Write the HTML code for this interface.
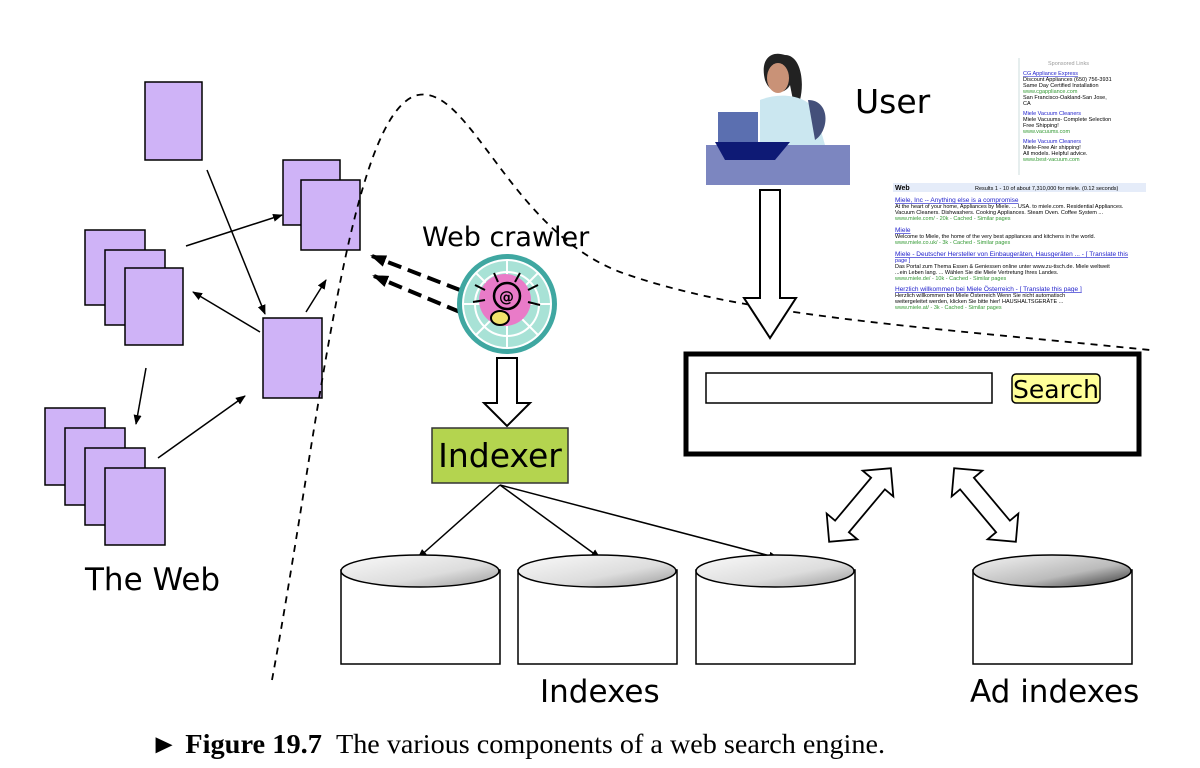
<!DOCTYPE html>
<html><head><meta charset="utf-8"><style>
body{margin:0;background:#fff;}
svg{display:block}
text{font-family:"DejaVu Sans","Liberation Sans",sans-serif;}
</style></head><body>
<svg width="1200" height="768" viewBox="0 0 1200 768" xmlns="http://www.w3.org/2000/svg">
<defs>
<marker id="ah" markerWidth="10" markerHeight="8" refX="9" refY="4" orient="auto" markerUnits="userSpaceOnUse"><path d="M0,0 L10,4 L0,8 z" fill="#000"/></marker>
<marker id="ah2" markerWidth="16" markerHeight="12" refX="14" refY="6" orient="auto" markerUnits="userSpaceOnUse"><path d="M0,0 L16,6 L0,12 z" fill="#000"/></marker>
<linearGradient id="cg" x1="0" y1="0" x2="1" y2="1"><stop offset="0" stop-color="#fafafa"/><stop offset="0.6" stop-color="#ddd"/><stop offset="1" stop-color="#999"/></linearGradient>
<linearGradient id="cg2" x1="0" y1="0" x2="1" y2="1"><stop offset="0" stop-color="#f4f4f4"/><stop offset="0.6" stop-color="#bbb"/><stop offset="1" stop-color="#333"/></linearGradient>
</defs>

<g fill="#cfb3f7" stroke="#000" stroke-width="1.5">
<rect x="145" y="82" width="57" height="78"/>
<rect x="283" y="160" width="57" height="65"/><rect x="301" y="180" width="59" height="70"/>
<rect x="85" y="230" width="60" height="75"/><rect x="105" y="250" width="60" height="75"/><rect x="125" y="268" width="58" height="77"/>
<rect x="263" y="318" width="59" height="80"/>
<rect x="45" y="408" width="60" height="77"/><rect x="65" y="428" width="60" height="77"/><rect x="85" y="448" width="60" height="77"/><rect x="105" y="468" width="60" height="77"/>
</g>
<g stroke="#000" stroke-width="1.5" marker-end="url(#ah)">
<line x1="207" y1="170" x2="265" y2="314"/>
<line x1="186" y1="246" x2="282" y2="215"/>
<line x1="260" y1="332" x2="193" y2="292"/>
<line x1="306" y1="312" x2="326" y2="280"/>
<line x1="146" y1="368" x2="136" y2="424"/>
<line x1="158" y1="458" x2="245" y2="396"/>
</g>
<text x="85" y="590" font-size="31">The Web</text>

<path d="M272,680 C320,420 350,110 418,95 C470,85 510,230 620,272 C740,315 900,325 1150,350" fill="none" stroke="#000" stroke-width="1.8" stroke-dasharray="7,6"/>

<text x="422" y="246" font-size="27">Web crawler</text>
<g stroke="#000" stroke-width="4" stroke-dasharray="14,7" marker-end="url(#ah2)">
<line x1="460" y1="290" x2="372" y2="256"/>
<line x1="460" y1="312" x2="374" y2="276"/>
</g>
<circle cx="507" cy="304" r="50" fill="#3fa7a1"/>
<circle cx="507" cy="304" r="44" fill="#a8e2d6"/>
<g stroke="#fff" stroke-width="2" fill="none">
<circle cx="507" cy="304" r="44"/><circle cx="507" cy="304" r="32"/>
<line x1="463" y1="304" x2="551" y2="304"/><line x1="507" y1="260" x2="507" y2="348"/>
<line x1="476" y1="273" x2="538" y2="335"/><line x1="538" y1="273" x2="476" y2="335"/>
</g>
<circle cx="505" cy="300" r="26" fill="#e97bc8"/>
<circle cx="507" cy="296" r="13" fill="none" stroke="#000" stroke-width="2.5"/>
<text x="499" y="302" font-size="15" font-weight="bold">@</text>
<ellipse cx="500" cy="318" rx="9" ry="7" fill="#f2e26c" stroke="#000" stroke-width="2"/>
<g stroke="#000" stroke-width="2"><line x1="485" y1="290" x2="475" y2="285"/><line x1="485" y1="300" x2="473" y2="302"/><line x1="528" y1="290" x2="538" y2="285"/><line x1="528" y1="302" x2="540" y2="305"/><line x1="515" y1="282" x2="520" y2="273"/><line x1="498" y1="282" x2="494" y2="273"/></g>

<path d="M497,358 L517,358 L517,403 L530,403 L507,426 L484,403 L497,403 z" fill="#fff" stroke="#000" stroke-width="2"/>

<rect x="432" y="428" width="136" height="55" fill="#b4d44f" stroke="#333" stroke-width="1.5"/>
<text x="500" y="467" font-size="33" text-anchor="middle">Indexer</text>
<g stroke="#000" stroke-width="1.5" marker-end="url(#ah)">
<line x1="500" y1="485" x2="418" y2="558"/>
<line x1="500" y1="485" x2="600" y2="558"/>
<line x1="500" y1="485" x2="778" y2="558"/>
</g>

<g stroke="#000" stroke-width="1.5">
<rect x="341" y="570" width="159" height="94" fill="#fff"/>
<rect x="518" y="570" width="159" height="94" fill="#fff"/>
<rect x="696" y="570" width="159" height="94" fill="#fff"/>
<rect x="973" y="570" width="159" height="94" fill="#fff"/>
<ellipse cx="420" cy="571" rx="79" ry="16" fill="url(#cg)"/>
<ellipse cx="597" cy="571" rx="79" ry="16" fill="url(#cg)"/>
<ellipse cx="775" cy="571" rx="79" ry="16" fill="url(#cg)"/>
<ellipse cx="1052" cy="571" rx="79" ry="16" fill="url(#cg2)"/>
</g>
<text x="540" y="702" font-size="31">Indexes</text>
<text x="970" y="702" font-size="31">Ad indexes</text>

<rect x="758" y="60" width="35" height="90" fill="#fff"/>
<path d="M785,55 C770,50 760,60 765,80 C770,95 785,95 790,85 L795,110 L800,100 C805,80 800,55 785,55z" fill="#222"/>
<ellipse cx="778" cy="78" rx="11" ry="15" fill="#c99277"/>
<path d="M760,100 C780,92 805,95 815,110 L825,145 L760,145 z" fill="#cbe7f0"/>
<path d="M808,100 C830,100 830,130 815,140 z" fill="#44507a"/>
<rect x="718" y="112" width="40" height="30" fill="#5b6fb0"/>
<path d="M706,145 L850,145 L850,185 L706,185 z" fill="#7c86c0"/>
<path d="M715,142 L790,142 L775,160 L725,160 z" fill="#0e1a75"/>
<text x="855" y="113" font-size="33">User</text>

<g style="font-family:'Liberation Sans',sans-serif" font-size="5.5">
<line x1="1019" y1="58" x2="1019" y2="175" stroke="#cdd" stroke-width="1"/>
<text style="font-family:'Liberation Sans',sans-serif" x="1048" y="65" fill="#999">Sponsored Links</text>
<text style="font-family:'Liberation Sans',sans-serif" x="1023" y="75" fill="#22c" text-decoration="underline">CG Appliance Express</text>
<text style="font-family:'Liberation Sans',sans-serif" x="1023" y="81">Discount Appliances (650) 756-3931</text>
<text style="font-family:'Liberation Sans',sans-serif" x="1023" y="87">Same Day Certified Installation</text>
<text style="font-family:'Liberation Sans',sans-serif" x="1023" y="93" fill="#393">www.cgappliance.com</text>
<text style="font-family:'Liberation Sans',sans-serif" x="1023" y="99">San Francisco-Oakland-San Jose,</text>
<text style="font-family:'Liberation Sans',sans-serif" x="1023" y="105">CA</text>
<text style="font-family:'Liberation Sans',sans-serif" x="1023" y="115" fill="#22c">Miele Vacuum Cleaners</text>
<text style="font-family:'Liberation Sans',sans-serif" x="1023" y="121">Miele Vacuums- Complete Selection</text>
<text style="font-family:'Liberation Sans',sans-serif" x="1023" y="127">Free Shipping!</text>
<text style="font-family:'Liberation Sans',sans-serif" x="1023" y="133" fill="#393">www.vacuums.com</text>
<text style="font-family:'Liberation Sans',sans-serif" x="1023" y="143" fill="#22c">Miele Vacuum Cleaners</text>
<text style="font-family:'Liberation Sans',sans-serif" x="1023" y="149">Miele-Free Air shipping!</text>
<text style="font-family:'Liberation Sans',sans-serif" x="1023" y="155">All models. Helpful advice.</text>
<text style="font-family:'Liberation Sans',sans-serif" x="1023" y="161" fill="#393">www.best-vacuum.com</text>
<rect x="893" y="183" width="253" height="9" fill="#e5ecf9"/>
<text style="font-family:'Liberation Sans',sans-serif" x="895" y="190" font-weight="bold" font-size="7">Web</text>
<text style="font-family:'Liberation Sans',sans-serif" x="975" y="190">Results 1 - 10 of about 7,310,000 for miele. (0.12 seconds)</text>
<text style="font-family:'Liberation Sans',sans-serif" x="895" y="202" fill="#22c" font-size="6.5" text-decoration="underline">Miele, Inc -- Anything else is a compromise</text>
<text style="font-family:'Liberation Sans',sans-serif" x="895" y="208">At the heart of your home, Appliances by Miele. ... USA. to miele.com. Residential Appliances.</text>
<text style="font-family:'Liberation Sans',sans-serif" x="895" y="214">Vacuum Cleaners. Dishwashers. Cooking Appliances. Steam Oven. Coffee System ...</text>
<text style="font-family:'Liberation Sans',sans-serif" x="895" y="220" fill="#393">www.miele.com/ - 20k - Cached - Similar pages</text>
<text style="font-family:'Liberation Sans',sans-serif" x="895" y="232" fill="#22c" font-size="6.5" text-decoration="underline">Miele</text>
<text style="font-family:'Liberation Sans',sans-serif" x="895" y="238">Welcome to Miele, the home of the very best appliances and kitchens in the world.</text>
<text style="font-family:'Liberation Sans',sans-serif" x="895" y="244" fill="#393">www.miele.co.uk/ - 3k - Cached - Similar pages</text>
<text style="font-family:'Liberation Sans',sans-serif" x="895" y="256" fill="#22c" font-size="6.5" text-decoration="underline">Miele - Deutscher Hersteller von Einbaugeräten, Hausgeräten ... - [ Translate this</text>
<text style="font-family:'Liberation Sans',sans-serif" x="895" y="262" fill="#22c">page ]</text>
<text style="font-family:'Liberation Sans',sans-serif" x="895" y="268">Das Portal zum Thema Essen &amp; Geniessen online unter www.zu-tisch.de. Miele weltweit</text>
<text style="font-family:'Liberation Sans',sans-serif" x="895" y="274">...ein Leben lang. ... Wählen Sie die Miele Vertretung Ihres Landes.</text>
<text style="font-family:'Liberation Sans',sans-serif" x="895" y="280" fill="#393">www.miele.de/ - 10k - Cached - Similar pages</text>
<text style="font-family:'Liberation Sans',sans-serif" x="895" y="291" fill="#22c" font-size="6.5" text-decoration="underline">Herzlich willkommen bei Miele Österreich - [ Translate this page ]</text>
<text style="font-family:'Liberation Sans',sans-serif" x="895" y="297">Herzlich willkommen bei Miele Österreich Wenn Sie nicht automatisch</text>
<text style="font-family:'Liberation Sans',sans-serif" x="895" y="303">weitergeleitet werden, klicken Sie bitte hier! HAUSHALTSGERÄTE ...</text>
<text style="font-family:'Liberation Sans',sans-serif" x="895" y="309" fill="#393">www.miele.at/ - 3k - Cached - Similar pages</text>
</g>

<path d="M760,190 L780,190 L780,298 L796,298 L770,338 L744,298 L760,298 z" fill="#fff" stroke="#000" stroke-width="2"/>

<rect x="686" y="354" width="453" height="100" fill="#fff" stroke="#000" stroke-width="5"/>
<rect x="706" y="373" width="286" height="30" fill="#fff" stroke="#000" stroke-width="1.5"/>
<rect x="1012" y="374" width="88" height="29" rx="4" fill="#ffff99" stroke="#000" stroke-width="1.5"/>
<text x="1056" y="398" font-size="25" text-anchor="middle">Search</text>

<g fill="#fff" stroke="#000" stroke-width="1.8">
<path d="M0,-9 L28,-9 L28,-20 L48,0 L28,20 L28,9 L-28,9 L-28,20 L-48,0 L-28,-20 L-28,-9 z" transform="translate(860,505) rotate(-50)"/>
<path d="M0,-9 L28,-9 L28,-20 L48,0 L28,20 L28,9 L-28,9 L-28,20 L-48,0 L-28,-20 L-28,-9 z" transform="translate(985,505) rotate(50)"/>
</g>

<text x="150" y="753" font-size="27" style="font-family:'Liberation Serif',serif" textLength="172" lengthAdjust="spacingAndGlyphs">► <tspan font-weight="bold">Figure 19.7</tspan></text>
<text x="336" y="753" font-size="27" style="font-family:'Liberation Serif',serif" textLength="549" lengthAdjust="spacingAndGlyphs">The various components of a web search engine.</text>
</svg>
</body></html>
